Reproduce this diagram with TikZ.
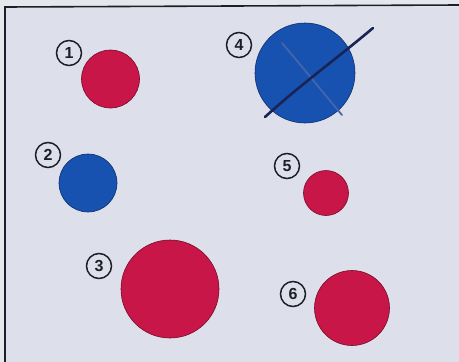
\documentclass[tikz,border=0pt]{standalone}
\usepackage{fontspec}
\setmainfont{Liberation Sans}
\definecolor{bg}{RGB}{221,224,234}
\definecolor{edge}{RGB}{230,231,236}
\definecolor{crim}{RGB}{200,22,72}
\definecolor{crimdark}{RGB}{120,10,40}
\definecolor{royal}{RGB}{24,82,176}
\definecolor{royaldark}{RGB}{15,45,110}
\definecolor{ink}{RGB}{30,30,40}
\tikzset{
  redball/.style={circle,fill=crim,draw=crimdark,line width=0.6pt,inner sep=0pt},
  blueball/.style={circle,fill=royal,draw=royaldark,line width=0.6pt,inner sep=0pt},
  tag/.style={circle,draw=ink,line width=1.5pt,minimum size=25pt,inner sep=0pt,
    font=\fontsize{16}{16}\selectfont\bfseries,text=ink,fill=bg},
}
\begin{document}
\begin{tikzpicture}[x=1pt,y=-1pt]
\fill[edge] (0,0) rectangle (459,362);
\useasboundingbox (0,0) rectangle (459,362);
\fill[bg] (5,7) rectangle (459,362);
\draw[ink,line width=1.6pt] (5,362) -- (5,7) -- (459,5);
% circles
\node[redball,minimum size=58pt] (c1) at (110.5,79) {};
\node[blueball,minimum size=58pt] (c2) at (88,183) {};
\node[redball,minimum size=98pt] (c3) at (170,289) {};
\node[blueball,minimum size=100pt] (c4) at (305,73) {};
\node[redball,minimum size=45pt] (c5) at (326,193) {};
\node[redball,minimum size=75pt] (c6) at (352,308) {};
% tags
\node[tag] (t1) at (69,53) {1};
\node[tag] (t2) at (48,155) {2};
\node[tag] (t3) at (99,266) {3};
\node[tag] (t4) at (239,45) {4};
\node[tag] (t5) at (287,166) {5};
\node[tag] (t6) at (293,294) {6};
% cross over 4
\coordinate (xa) at (265,117);
\coordinate (xb) at (373,28);
\coordinate (xc) at (282,43);
\coordinate (xd) at (342,115);
\draw[color={rgb,255:red,70;green,100;blue,170},line width=1.8pt,line cap=round]
  (xc) .. controls (305,70) and (325,95) .. (xd);
\draw[color={rgb,255:red,25;green,35;blue,85},line width=2.6pt,line cap=round]
  (xa) .. controls (300,85) and (335,60) .. (xb);
\end{tikzpicture}
\end{document}
